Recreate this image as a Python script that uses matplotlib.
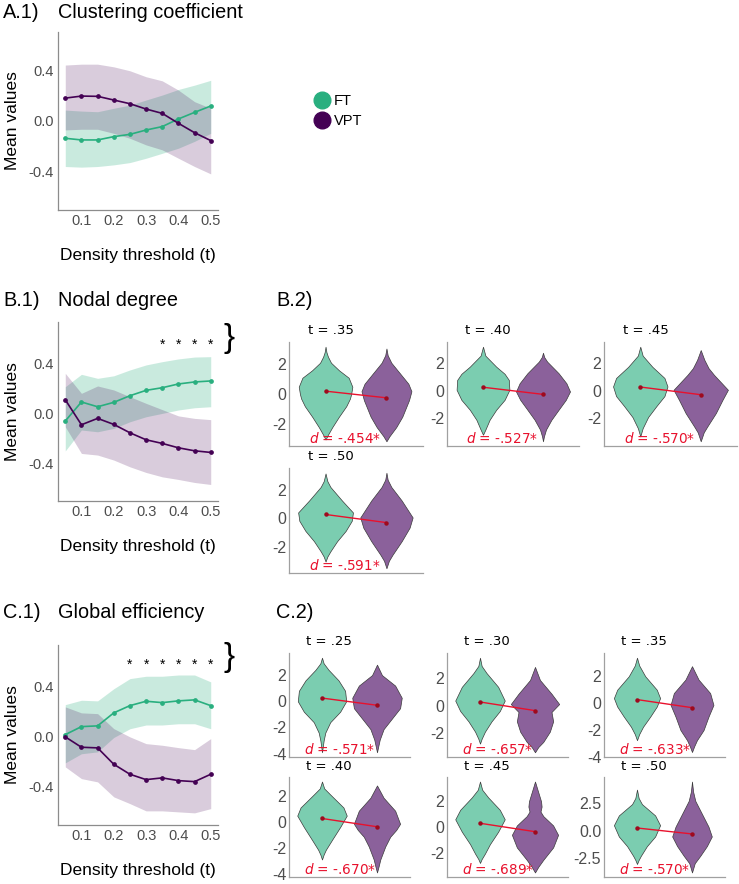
import numpy as np
import matplotlib
matplotlib.use("Agg")
import matplotlib.pyplot as plt
from matplotlib.lines import Line2D
from matplotlib.transforms import blended_transform_factory

plt.rcParams['axes.unicode_minus'] = False
plt.rcParams['font.family'] = ['Liberation Sans', 'DejaVu Sans']

# ---------------- data: line panels ----------------
THRESH = [0.05, 0.10, 0.15, 0.20, 0.25, 0.30, 0.35, 0.40, 0.45, 0.50]
X_TICKS = [0.1, 0.2, 0.3, 0.4, 0.5]
X_TICKLABELS = ["0.1", "0.2", "0.3", "0.4", "0.5"]
Y_TICKS = [-0.4, 0.0, 0.4]
Y_TICKLABELS = ["-0.4", "0.0", "0.4"]

A_FT = [-0.136, -0.149, -0.149, -0.123, -0.105, -0.071, -0.044, 0.016, 0.068, 0.118]
A_FT_LO = [-0.358, -0.363, -0.358, -0.345, -0.327, -0.293, -0.254, -0.214, -0.160, -0.097]
A_FT_HI = [0.086, 0.078, 0.073, 0.100, 0.125, 0.165, 0.204, 0.248, 0.282, 0.320]
A_VPT = [0.180, 0.196, 0.194, 0.165, 0.136, 0.094, 0.060, -0.018, -0.092, -0.154]
A_VPT_LO = [-0.070, -0.065, -0.065, -0.097, -0.136, -0.188, -0.227, -0.293, -0.358, -0.416]
A_VPT_HI = [0.440, 0.447, 0.447, 0.426, 0.395, 0.348, 0.316, 0.243, 0.152, 0.100]

B_FT = [-0.061, 0.091, 0.053, 0.088, 0.141, 0.184, 0.205, 0.235, 0.251, 0.259]
B_FT_LO = [-0.300, -0.133, -0.147, -0.120, -0.067, -0.027, 0.000, 0.027, 0.045, 0.053]
B_FT_HI = [0.213, 0.312, 0.280, 0.300, 0.347, 0.387, 0.413, 0.435, 0.450, 0.453]
B_VPT = [0.109, -0.091, -0.040, -0.088, -0.155, -0.211, -0.240, -0.275, -0.299, -0.312]
B_VPT_LO = [-0.107, -0.320, -0.333, -0.373, -0.427, -0.472, -0.507, -0.528, -0.552, -0.568]
B_VPT_HI = [0.320, 0.160, 0.219, 0.187, 0.133, 0.080, 0.030, -0.020, -0.040, -0.050]
B_SIG = [0.35, 0.40, 0.45, 0.50]

C_FT = [0.013, 0.077, 0.083, 0.187, 0.245, 0.280, 0.269, 0.283, 0.291, 0.245]
C_FT_LO = [-0.213, -0.140, -0.125, -0.010, 0.060, 0.090, 0.090, 0.100, 0.100, 0.060]
C_FT_HI = [0.253, 0.288, 0.283, 0.380, 0.461, 0.480, 0.480, 0.490, 0.490, 0.435]
C_VPT = [-0.005, -0.088, -0.093, -0.224, -0.304, -0.347, -0.333, -0.355, -0.363, -0.304]
C_VPT_LO = [-0.245, -0.339, -0.365, -0.485, -0.539, -0.597, -0.597, -0.605, -0.613, -0.579]
C_VPT_HI = [0.235, 0.187, 0.181, 0.061, -0.005, -0.059, -0.072, -0.091, -0.107, -0.019]
C_SIG = [0.25, 0.30, 0.35, 0.40, 0.45, 0.50]

GROUPS = ["FT", "VPT"]

# ---------------- data: violin panels (density profiles: y levels, half-widths) ----------------
B2_T = [0.35, 0.40, 0.45, 0.50]
B2_TITLES = ["t = .35", "t = .40", "t = .45", "t = .50"]
B2_D = ["-.454*", "-.527*", "-.570*", "-.591*"]
B2_FT_Y = [
    [3.17, 2.8, 2.5, 2.1, 1.6, 1.1, 0.5, 0.0, -0.3, -0.8, -1.5, -2.2, -2.7, -3.02],
    [3.14, 2.9, 2.5, 1.71, 1.2, 0.76, 0.05, -0.67, -1.38, -2.1, -2.8, -3.17],
    [3.14, 2.9, 2.5, 1.7, 0.9, 0.29, -0.4, -1.1, -1.9, -2.7, -3.29],
    [3.14, 2.6, 2.19, 1.24, 0.4, -0.19, -0.9, -1.62, -2.33, -2.7, -3.05],
]
B2_FT_W = [
    [0.0, 0.015, 0.04, 0.09, 0.22, 0.38, 0.44, 0.42, 0.40, 0.34, 0.22, 0.11, 0.04, 0.0],
    [0.0, 0.015, 0.04, 0.22, 0.36, 0.43, 0.44, 0.36, 0.22, 0.11, 0.04, 0.0],
    [0.0, 0.015, 0.04, 0.20, 0.40, 0.45, 0.40, 0.27, 0.13, 0.04, 0.0],
    [0.0, 0.03, 0.08, 0.27, 0.45, 0.43, 0.33, 0.19, 0.08, 0.03, 0.0],
]
B2_VPT_Y = [
    [3.05, 2.6, 2.1, 1.4, 0.7, 0.2, -0.4, -1.0, -1.5, -2.2, -2.8, -3.14],
    [2.71, 2.4, 2.07, 1.24, 0.52, -0.07, -0.67, -1.38, -2.1, -2.8, -3.3, -3.64],
    [2.9, 2.2, 1.6, 1.12, 0.05, -0.67, -1.62, -2.57, -3.0, -3.64],
    [3.19, 2.7, 2.19, 1.24, 0.05, -0.67, -1.62, -2.57, -3.0, -3.52],
]
B2_VPT_W = [
    [0.0, 0.02, 0.08, 0.22, 0.36, 0.41, 0.37, 0.31, 0.26, 0.16, 0.05, 0.0],
    [0.0, 0.02, 0.07, 0.26, 0.39, 0.45, 0.38, 0.26, 0.14, 0.05, 0.015, 0.0],
    [0.0, 0.06, 0.13, 0.22, 0.45, 0.36, 0.25, 0.11, 0.05, 0.0],
    [0.0, 0.02, 0.08, 0.25, 0.43, 0.38, 0.25, 0.10, 0.04, 0.0],
]
B2_YTICKS = [[-2, 0, 2]] * 4
B2_YTICKLABELS = [["-2", "0", "2"]] * 4

C2_T = [0.25, 0.30, 0.35, 0.40, 0.45, 0.50]
C2_TITLES = ["t = .25", "t = .30", "t = .35", "t = .40", "t = .45", "t = .50"]
C2_D = ["-.571*", "-.657*", "-.633*", "-.670*", "-.689*", "-.570*"]
C2_FT_Y = [
    [3.33, 2.9, 2.4, 1.6, 0.8, 0.0, -0.8, -1.6, -2.4, -3.0, -3.9],
    [3.5, 2.9, 2.38, 1.38, 0.38, -0.38, -1.13, -1.88, -2.4, -2.75],
    [3.38, 2.8, 2.0, 1.0, 0.38, -0.25, -1.0, -1.75, -2.3, -2.75],
    [3.13, 2.6, 2.13, 1.13, 0.5, -0.38, -1.38, -2.13, -2.5, -2.88],
    [3.54, 2.9, 2.3, 1.34, 0.6, -0.37, -1.34, -2.07, -2.5, -2.8],
    [3.78, 3.0, 2.44, 1.4, 0.5, -0.54, -1.43, -2.32, -2.7, -3.07],
]
C2_FT_W = [
    [0.0, 0.03, 0.12, 0.30, 0.42, 0.44, 0.33, 0.15, 0.06, 0.03, 0.0],
    [0.0, 0.03, 0.12, 0.33, 0.45, 0.36, 0.21, 0.09, 0.03, 0.0],
    [0.0, 0.04, 0.15, 0.36, 0.42, 0.36, 0.24, 0.11, 0.04, 0.0],
    [0.0, 0.04, 0.15, 0.39, 0.45, 0.33, 0.18, 0.07, 0.03, 0.0],
    [0.0, 0.04, 0.15, 0.36, 0.45, 0.33, 0.18, 0.09, 0.03, 0.0],
    [0.0, 0.03, 0.09, 0.33, 0.42, 0.33, 0.18, 0.07, 0.03, 0.0],
]
C2_VPT_Y = [
    [2.8, 2.0, 1.2, 0.27, -0.53, -1.33, -2.13, -2.93, -3.5, -3.9],
    [2.83, 1.88, 0.88, 0.13, -0.45, -1.13, -1.88, -2.63, -3.0, -3.38],
    [2.75, 1.75, 0.75, -0.13, -1.0, -2.0, -2.75, -3.2, -3.63],
    [2.83, 1.88, 0.88, -0.13, -0.6, -1.13, -1.88, -2.88, -3.4, -3.88],
    [3.54, 2.56, 2.0, 1.59, 1.2, 0.85, 0.12, -0.61, -1.59, -2.56, -3.1, -3.54],
    [4.52, 3.6, 2.74, 1.55, 0.36, -0.54, -1.43, -2.32, -3.0, -3.85],
]
C2_VPT_W = [
    [0.0, 0.09, 0.33, 0.45, 0.42, 0.27, 0.12, 0.05, 0.02, 0.0],
    [0.0, 0.09, 0.30, 0.44, 0.30, 0.33, 0.27, 0.15, 0.06, 0.0],
    [0.0, 0.12, 0.33, 0.39, 0.30, 0.21, 0.09, 0.04, 0.0],
    [0.0, 0.12, 0.33, 0.42, 0.35, 0.24, 0.15, 0.06, 0.03, 0.0],
    [0.0, 0.07, 0.11, 0.12, 0.10, 0.15, 0.33, 0.42, 0.33, 0.15, 0.06, 0.0],
    [0.0, 0.02, 0.06, 0.18, 0.30, 0.36, 0.27, 0.15, 0.05, 0.0],
]
C2_YTICKS = [[-4, -2, 0, 2], [-2, 0, 2], [-4, -2, 0, 2], [-4, -2, 0, 2], [-2, 0, 2], [-2.5, 0, 2.5]]
C2_YTICKLABELS = [["-4", "-2", "0", "2"], ["-2", "0", "2"], ["-4", "-2", "0", "2"],
                  ["-4", "-2", "0", "2"], ["-2", "0", "2"], ["-2.5", "0.0", "2.5"]]

# ---------------- style ----------------
FT_C = "#29AF7F"
VPT_C = "#440154"
FT_V = "#7BCDB0"
VPT_V = "#8B619B"
RED = "#E8112D"
GREY_TXT = "#4D4D4D"
SPINE = "#8C8C8C"

W, H = 739, 884
fig = plt.figure(figsize=(W / 100, H / 100), dpi=100)


def add_ax(l, t, r, b):
    return fig.add_axes([l / W, 1 - b / H, (r - l) / W, (b - t) / H])


def style_spines(ax, color=SPINE):
    for s in ["top", "right"]:
        ax.spines[s].set_visible(False)
    for s in ["left", "bottom"]:
        ax.spines[s].set_color(color)
        ax.spines[s].set_linewidth(0.9)
    ax.tick_params(length=0)


def line_panel(ax, ft, ft_lo, ft_hi, vpt, vpt_lo, vpt_hi, ylim, sig=None, star_y=None):
    ax.fill_between(THRESH, ft_lo, ft_hi, color=FT_C, alpha=0.25, lw=0)
    ax.fill_between(THRESH, vpt_lo, vpt_hi, color=VPT_C, alpha=0.2, lw=0)
    ax.plot(THRESH, ft, color=FT_C, lw=1.2, marker='o', ms=2.4)
    ax.plot(THRESH, vpt, color=VPT_C, lw=1.2, marker='o', ms=2.4)
    ax.set_xlim(0.0275, 0.5225)
    ax.set_ylim(*ylim)
    ax.set_xticks(X_TICKS)
    ax.set_xticklabels(X_TICKLABELS)
    ax.set_yticks(Y_TICKS)
    ax.set_yticklabels(Y_TICKLABELS)
    ax.tick_params(labelsize=10.5, colors=GREY_TXT, pad=3)
    style_spines(ax)
    ax.set_ylabel("Mean values", fontsize=12.5, color="black", labelpad=6)
    ax.set_xlabel("Density threshold (t)", fontsize=12.5, color="black", labelpad=14)
    if sig is not None:
        tr = blended_transform_factory(ax.transData, ax.transAxes)
        for s in sig:
            ax.text(s, star_y, "*", transform=tr, ha='center', va='center', fontsize=10)
        ax.text(1.07, star_y + 0.04, "}", transform=ax.transAxes, ha='center', va='center',
                fontsize=24, clip_on=False)


def violin_panel(ax, ft_y, ft_w, vpt_y, vpt_w, ft_mean, vpt_mean, title, d, yt, ytl):
    stats = []
    for yy, ww, m in [(ft_y, ft_w, ft_mean), (vpt_y, vpt_w, vpt_mean)]:
        stats.append(dict(coords=np.array(yy), vals=np.array(ww), mean=m, median=m,
                          min=min(yy), max=max(yy)))
    parts = ax.violin(stats, positions=[1, 2], widths=[2 * max(ft_w), 2 * max(vpt_w)],
                      showmeans=False, showextrema=False, showmedians=False)
    for body, c in zip(parts['bodies'], [FT_V, VPT_V]):
        body.set_facecolor(c)
        body.set_edgecolor("#3A3A3A")
        body.set_linewidth(0.5)
        body.set_alpha(1)
    ax.plot([1, 2], [ft_mean, vpt_mean], color=RED, lw=1.0, marker='o', ms=2.2,
            mfc="#9E0A1E", mec="#9E0A1E", zorder=5)
    ax.set_xlim(0.4, 2.6)
    lo = min(min(ft_y), min(vpt_y))
    hi = max(max(ft_y), max(vpt_y))
    r = hi - lo
    ax.set_ylim(lo - 0.05 * r, hi + 0.05 * r)
    ax.set_xticks([])
    ax.set_yticks(yt)
    ax.set_yticklabels(ytl)
    ax.tick_params(labelsize=11.5, colors=GREY_TXT, pad=2)
    style_spines(ax, "#A0A0A0")
    ax.text(0.14, 1.11, title, transform=ax.transAxes, ha='left', va='center',
            fontsize=9.5, family='DejaVu Sans')
    ax.text(0.42, 0.07, "$d$ = " + d, transform=ax.transAxes, ha='center', va='center',
            fontsize=9.8, color=RED, family='DejaVu Sans')


# ---------------- titles ----------------
def panel_title(y, tag, name, x_tag=3, x_name=58):
    fig.text(x_tag / W, 1 - y / H, tag, fontsize=14.3, ha='left', va='center')
    if name:
        fig.text(x_name / W, 1 - y / H, name, fontsize=14.3, ha='left', va='center')


panel_title(13, "A.1)", "Clustering coefficient")
panel_title(301, "B.1)", "Nodal degree")
panel_title(612, "C.1)", "Global efficiency")
panel_title(301, "B.2)", None, x_tag=276)
panel_title(612, "C.2)", None, x_tag=276)

# ---------------- line panels ----------------
axA = add_ax(58, 32, 218, 210)
line_panel(axA, A_FT, A_FT_LO, A_FT_HI, A_VPT, A_VPT_LO, A_VPT_HI, (-0.7, 0.7))
axB = add_ax(58, 322, 218, 501)
line_panel(axB, B_FT, B_FT_LO, B_FT_HI, B_VPT, B_VPT_LO, B_VPT_HI, (-0.7, 0.73), B_SIG, 0.87)
axC = add_ax(58, 645, 218, 825)
line_panel(axC, C_FT, C_FT_LO, C_FT_HI, C_VPT, C_VPT_LO, C_VPT_HI, (-0.71, 0.73), C_SIG, 0.89)

# legend
handles = [Line2D([], [], marker='o', ls='', ms=12, color=c) for c in [FT_C, VPT_C]]
fig.legend(handles, GROUPS, loc='center left', bbox_to_anchor=(306 / W, 1 - 111 / H),
           frameon=False, fontsize=10.5, handletextpad=0.2, labelspacing=0.45,
           handlelength=1.2, borderpad=0)

# ---------------- violin panels ----------------
B2_COLS = [(289, 423), (447, 579), (604, 737)]
B2_ROWS = [(342, 446), (468, 573)]
for i in range(len(B2_T)):
    r, c = divmod(i, 3)
    ax = add_ax(B2_COLS[c][0], B2_ROWS[r][0], B2_COLS[c][1], B2_ROWS[r][1])
    k = THRESH.index(B2_T[i])
    violin_panel(ax, B2_FT_Y[i], B2_FT_W[i], B2_VPT_Y[i], B2_VPT_W[i], B_FT[k], B_VPT[k],
                 B2_TITLES[i], B2_D[i], B2_YTICKS[i], B2_YTICKLABELS[i])

C2_COLS = [(289, 410), (447, 568), (604, 725)]
C2_ROWS = [(653, 757), (777, 877)]
for i in range(len(C2_T)):
    r, c = divmod(i, 3)
    ax = add_ax(C2_COLS[c][0], C2_ROWS[r][0], C2_COLS[c][1], C2_ROWS[r][1])
    k = THRESH.index(C2_T[i])
    violin_panel(ax, C2_FT_Y[i], C2_FT_W[i], C2_VPT_Y[i], C2_VPT_W[i], C_FT[k], C_VPT[k],
                 C2_TITLES[i], C2_D[i], C2_YTICKS[i], C2_YTICKLABELS[i])

fig.savefig("out.png", dpi=100)
